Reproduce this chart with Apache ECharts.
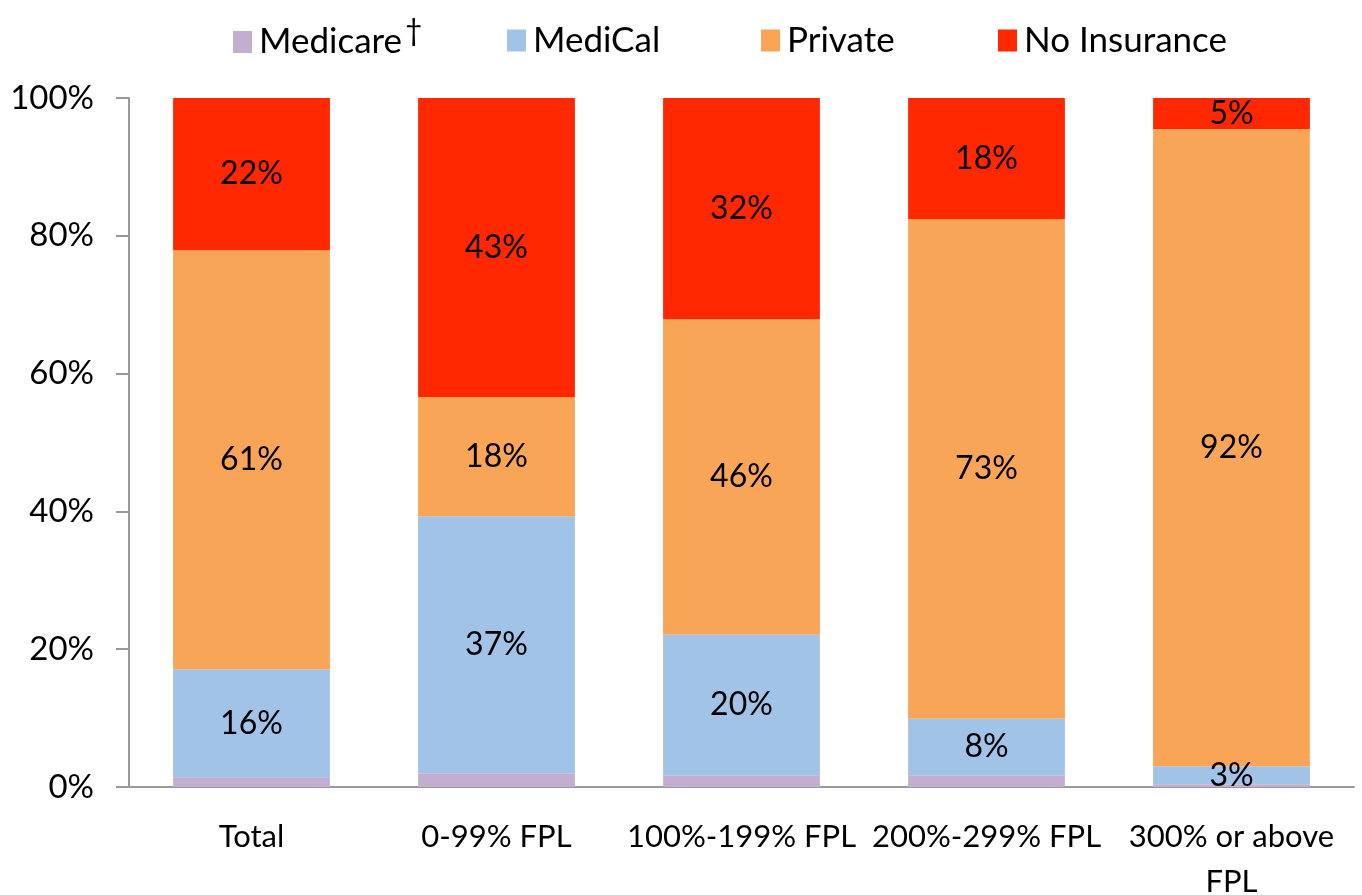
<!DOCTYPE html>
<html>
<head>
<meta charset="utf-8">
<script src="https://cdn.jsdelivr.net/npm/echarts@6/dist/echarts.min.js"></script>
<style>
  html, body { margin: 0; padding: 0; background: #fff; }
  #chart { width: 1362px; height: 895px; }
</style>
</head>
<body>
<div id="chart"></div>
<script>
// 数据
const categories = ["Total", "0-99% FPL", "100%-199% FPL", "200%-299% FPL", "300% or above\nFPL"];
const seriesNames = ["Medicare", "MediCal", "Private", "No Insurance"];
const medicare = [1.4, 2.0, 1.7, 1.7, 0.4];
const medical = [15.7, 37.3, 20.4, 8.2, 2.6];
const privateIns = [60.8, 17.3, 45.8, 72.5, 92.5];
const noInsurance = [22.1, 43.4, 32.1, 17.6, 4.5];
const medicalLabels = ["16%", "37%", "20%", "8%", "3%"];
const privateLabels = ["61%", "18%", "46%", "73%", "92%"];
const noInsLabels = ["22%", "43%", "32%", "18%", "5%"];
const yTicks = [0, 20, 40, 60, 80, 100];

const FONT = "Lato";
let myChart = echarts.init(document.getElementById("chart"));

function labelOf(arr) {
  return {
    show: true,
    position: "inside",
    color: "#000",
    fontFamily: FONT,
    fontSize: 32,
    formatter: function (p) { return arr[p.dataIndex]; }
  };
}

// 图例位置（每项单独一个legend）
const legendLeft = [228, 502, 756, 993];
let legends = seriesNames.map(function (name, i) {
  return {
    top: name === "Medicare" ? 11 : 18,
    left: legendLeft[i],
    itemWidth: 19,
    itemHeight: 22,
    icon: "rect",
    textStyle: {
      fontFamily: FONT,
      fontSize: 35,
      color: "#000",
      padding: [0, 0, 0, 2],
      rich: {
        d: { fontFamily: FONT, fontSize: 30, color: "#000", verticalAlign: "top", padding: [0, 0, 22, 3] }
      }
    },
    formatter: function (n) {
      return n === "Medicare" ? n + "{d|†}" : n;
    },
    data: [name]
  };
});

let option = {
  animation: false,
  legend: legends,
  grid: { left: 129, right: 8, top: 98, bottom: 108, outerBoundsMode: "none" },
  xAxis: {
    type: "category",
    data: categories,
    axisLine: { lineStyle: { color: "#999", width: 2 } },
    axisTick: { show: false },
    axisLabel: {
      color: "#000",
      fontFamily: FONT,
      fontSize: 31,
      margin: 27,
      lineHeight: 45,
      interval: 0
    }
  },
  yAxis: {
    type: "value",
    min: 0,
    max: 100,
    interval: 20,
    axisLine: { show: true, lineStyle: { color: "#999", width: 2 } },
    axisTick: { show: true, length: 13, lineStyle: { color: "#999", width: 2 } },
    splitLine: { show: false },
    axisLabel: {
      color: "#000",
      fontFamily: FONT,
      fontSize: 33,
      margin: 35,
      formatter: function (v) { return yTicks.indexOf(v) >= 0 ? v + "%" : ""; }
    }
  },
  series: [
    { name: "Medicare", type: "bar", stack: "all", barWidth: "64%", data: medicare,
      itemStyle: { color: "#C3AED0" } },
    { name: "MediCal", type: "bar", stack: "all", data: medical,
      itemStyle: { color: "#A0C3E7" }, label: labelOf(medicalLabels) },
    { name: "Private", type: "bar", stack: "all", data: privateIns,
      itemStyle: { color: "#F8A557" }, label: labelOf(privateLabels) },
    { name: "No Insurance", type: "bar", stack: "all", data: noInsurance,
      itemStyle: { color: "#FF2800" }, label: labelOf(noInsLabels) }
  ]
};

myChart.setOption(option);
</script>
</body>
</html>
